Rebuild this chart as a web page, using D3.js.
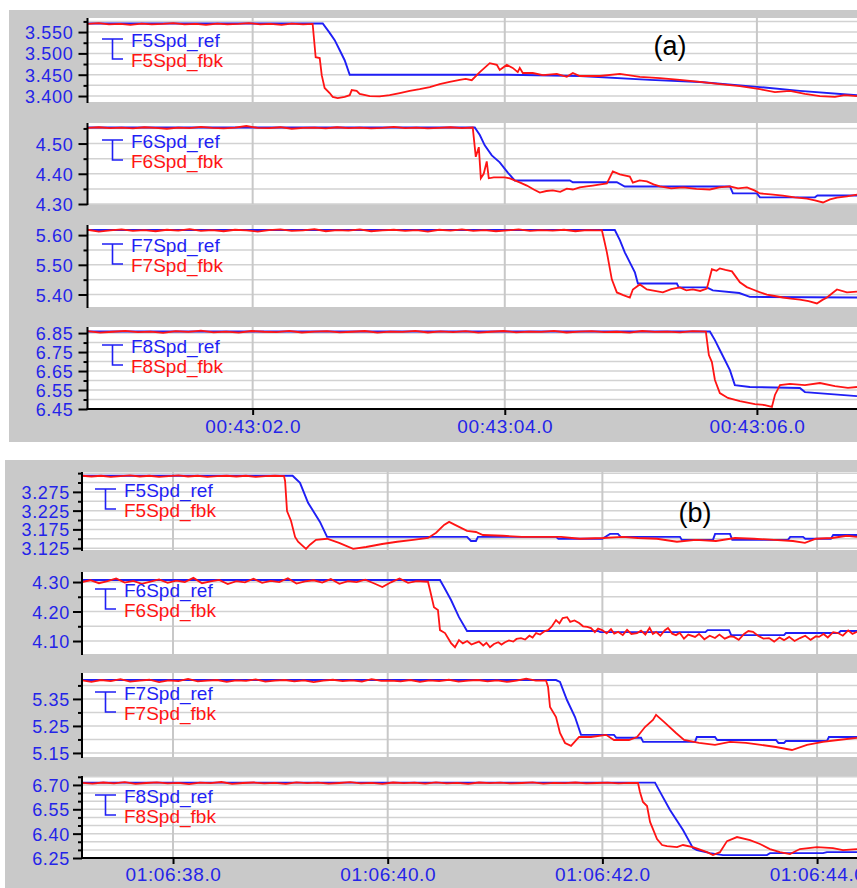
<!DOCTYPE html>
<html>
<head>
<meta charset="utf-8">
<style>
body { margin: 0; background: #fff; }
svg text { font-family: "Liberation Sans", Arial, sans-serif; }
</style>
</head>
<body>
<div id="chart"></div>
<script src="https://d3js.org/d3.v7.min.js"></script>
<script>

var width = 857, height = 888;

// (a): seconds after 00:43:00, (b): seconds after 01:06:00
var timeTicksA = [2, 4, 6];
var timeTicksB = [38, 40, 42, 44];

var f5aRef = [[0.69,3.570],[2.556,3.570],[2.611,3.548],[2.651,3.531],[2.690,3.508],[2.730,3.484],[2.770,3.450],[4.000,3.450],[4.595,3.447],[5.151,3.438],[5.548,3.433],[6.024,3.421],[6.341,3.412],[6.794,3.402]];
var f5aFbk = [[0.69,3.569],[0.78,3.571],[0.86,3.568],[0.95,3.569],[1.03,3.567],[1.12,3.570],[1.20,3.568],[1.29,3.569],[1.37,3.571],[1.46,3.568],[1.55,3.569],[1.63,3.567],[1.72,3.570],[1.80,3.568],[1.89,3.569],[1.97,3.571],[2.06,3.568],[2.14,3.569],[2.23,3.567],[2.31,3.570],[2.40,3.568],[2.476,3.569],
  [2.500,3.491],[2.532,3.489],[2.548,3.449],[2.571,3.419],[2.611,3.407],[2.635,3.398],[2.675,3.395],[2.730,3.398],[2.770,3.402],[2.786,3.414],[2.825,3.412],[2.849,3.405],[2.929,3.400],[3.008,3.399],[3.087,3.402],[3.167,3.407],[3.246,3.412],[3.325,3.416],[3.405,3.421],[3.484,3.428],[3.563,3.433],[3.643,3.438],[3.690,3.440],[3.738,3.437],[3.802,3.456],[3.881,3.477],[3.937,3.473],[3.960,3.461],[4.016,3.473],[4.063,3.466],[4.103,3.456],[4.119,3.466],[4.143,3.454],[4.222,3.454],[4.302,3.449],[4.413,3.452],[4.492,3.445],[4.540,3.454],[4.595,3.447],[4.754,3.447],[4.913,3.452],[5.071,3.445],[5.230,3.442],[5.389,3.438],[5.548,3.433],[5.706,3.428],[5.865,3.423],[6.024,3.416],[6.143,3.409],[6.262,3.412],[6.381,3.405],[6.500,3.400],[6.619,3.398],[6.698,3.402],[6.794,3.400]];

var f6aRef = [[0.69,4.553],[3.762,4.553],[3.802,4.528],[3.841,4.494],[3.897,4.461],[3.960,4.438],[4.024,4.404],[4.079,4.378],[4.516,4.378],[4.540,4.372],[4.889,4.372],[4.952,4.358],[5.786,4.358],[5.810,4.335],[6.000,4.335],[6.024,4.322],[6.460,4.322],[6.480,4.328],[6.794,4.328]];
var f6aFbk = [[0.69,4.552],[0.78,4.554],[0.87,4.551],[0.96,4.553],[1.05,4.550],[1.14,4.554],[1.23,4.552],[1.32,4.549],[1.41,4.553],[1.50,4.551],[1.59,4.555],[1.68,4.552],[1.77,4.550],[1.86,4.553],[1.95,4.558],[2.04,4.552],[2.13,4.551],[2.22,4.554],[2.31,4.549],[2.40,4.552],[2.49,4.553],[2.58,4.550],[2.67,4.554],[2.76,4.551],[2.85,4.553],[2.94,4.550],[3.03,4.552],[3.12,4.555],[3.21,4.551],[3.30,4.553],[3.39,4.550],[3.48,4.552],[3.57,4.554],[3.66,4.551],[3.746,4.553],
  [3.770,4.456],[3.794,4.488],[3.810,4.385],[3.833,4.400],[3.857,4.441],[3.873,4.385],[3.913,4.388],[4.000,4.388],[4.040,4.385],[4.079,4.378],[4.127,4.370],[4.175,4.361],[4.230,4.348],[4.278,4.338],[4.330,4.343],[4.381,4.345],[4.440,4.340],[4.492,4.351],[4.540,4.348],[4.595,4.355],[4.650,4.358],[4.698,4.361],[4.760,4.365],[4.810,4.368],[4.857,4.408],[4.913,4.398],[4.992,4.391],[5.016,4.371],[5.070,4.378],[5.127,4.375],[5.180,4.365],[5.230,4.358],[5.320,4.352],[5.413,4.355],[5.520,4.350],[5.627,4.348],[5.700,4.355],[5.786,4.358],[5.850,4.352],[5.921,4.355],[5.980,4.345],[6.024,4.335],[6.110,4.332],[6.206,4.328],[6.300,4.322],[6.397,4.318],[6.460,4.312],[6.524,4.305],[6.580,4.315],[6.635,4.321],[6.714,4.325],[6.794,4.331]];

var f7aRef = [[0.69,5.617],[4.873,5.617],[4.913,5.583],[4.952,5.542],[4.992,5.508],[5.032,5.475],[5.056,5.437],[5.365,5.437],[5.380,5.424],[5.603,5.424],[5.650,5.414],[5.860,5.405],[5.944,5.392],[6.794,5.390]];
var f7aFbk = [[0.69,5.618],[0.78,5.612],[0.87,5.616],[0.96,5.619],[1.05,5.614],[1.14,5.617],[1.23,5.613],[1.32,5.618],[1.41,5.615],[1.50,5.620],[1.59,5.614],[1.68,5.617],[1.77,5.613],[1.86,5.618],[1.95,5.616],[2.04,5.612],[2.13,5.617],[2.22,5.619],[2.31,5.614],[2.40,5.616],[2.49,5.620],[2.58,5.613],[2.67,5.617],[2.76,5.615],[2.85,5.619],[2.94,5.613],[3.03,5.616],[3.12,5.618],[3.21,5.614],[3.30,5.617],[3.39,5.612],[3.48,5.618],[3.57,5.615],[3.66,5.619],[3.75,5.614],[3.84,5.617],[3.93,5.613],[4.02,5.616],[4.11,5.619],[4.20,5.614],[4.29,5.617],[4.38,5.615],[4.47,5.618],[4.56,5.613],[4.65,5.617],[4.754,5.616],
  [4.770,5.617],[4.790,5.580],[4.810,5.542],[4.849,5.451],[4.889,5.407],[4.940,5.398],[4.992,5.390],[5.016,5.417],[5.071,5.434],[5.100,5.425],[5.127,5.417],[5.190,5.412],[5.254,5.407],[5.320,5.418],[5.389,5.424],[5.440,5.414],[5.492,5.417],[5.550,5.412],[5.603,5.420],[5.643,5.485],[5.680,5.480],[5.706,5.488],[5.750,5.483],[5.802,5.478],[5.865,5.441],[5.920,5.425],[5.968,5.417],[6.020,5.408],[6.079,5.400],[6.140,5.395],[6.206,5.390],[6.270,5.386],[6.341,5.383],[6.410,5.378],[6.476,5.370],[6.520,5.382],[6.556,5.390],[6.600,5.405],[6.635,5.417],[6.714,5.407],[6.794,5.410]];

var f8aRef = [[0.69,6.858],[5.627,6.858],[5.667,6.813],[5.706,6.761],[5.746,6.708],[5.786,6.655],[5.825,6.576],[5.944,6.566],[6.341,6.561],[6.381,6.539],[6.794,6.518]];
var f8aFbk = [[0.69,6.860],[0.79,6.852],[0.89,6.857],[0.99,6.862],[1.09,6.855],[1.19,6.858],[1.29,6.851],[1.39,6.860],[1.49,6.856],[1.59,6.863],[1.69,6.854],[1.79,6.858],[1.89,6.852],[1.99,6.861],[2.09,6.857],[2.19,6.855],[2.29,6.862],[2.39,6.853],[2.49,6.858],[2.59,6.860],[2.69,6.854],[2.79,6.857],[2.89,6.861],[2.99,6.852],[3.09,6.858],[3.19,6.856],[3.29,6.862],[3.39,6.853],[3.49,6.859],[3.59,6.855],[3.69,6.860],[3.79,6.852],[3.89,6.857],[3.99,6.861],[4.09,6.854],[4.19,6.858],[4.29,6.856],[4.39,6.862],[4.49,6.853],[4.59,6.858],[4.69,6.860],[4.79,6.855],[4.89,6.857],[4.99,6.852],[5.09,6.861],[5.19,6.856],[5.29,6.858],[5.39,6.854],[5.49,6.860],[5.595,6.858],
  [5.619,6.734],[5.643,6.697],[5.667,6.603],[5.706,6.534],[5.770,6.508],[5.865,6.492],[5.984,6.476],[6.063,6.471],[6.119,6.461],[6.143,6.524],[6.183,6.576],[6.262,6.582],[6.381,6.576],[6.500,6.587],[6.619,6.571],[6.722,6.561],[6.794,6.566]];

var f5bRef = [[37.152,3.318],[39.114,3.318],[39.183,3.299],[39.258,3.246],[39.369,3.195],[39.435,3.155],[40.739,3.155],[40.776,3.144],[40.822,3.144],[40.841,3.155],[41.568,3.155],[41.590,3.150],[42.000,3.150],[42.071,3.163],[42.145,3.163],[42.170,3.155],[42.723,3.155],[42.740,3.147],[43.030,3.147],[43.050,3.163],[43.189,3.163],[43.210,3.147],[43.729,3.147],[43.750,3.155],[43.869,3.155],[43.890,3.150],[44.129,3.150],[44.150,3.160],[44.372,3.160]];
var f5bFbk = [[37.152,3.318],[37.24,3.316],[37.33,3.318],[37.42,3.315],[37.51,3.317],[37.60,3.319],[37.69,3.316],[37.78,3.318],[37.87,3.315],[37.96,3.317],[38.05,3.319],[38.14,3.316],[38.23,3.318],[38.32,3.315],[38.41,3.317],[38.50,3.318],[38.59,3.316],[38.68,3.318],[38.77,3.315],[38.86,3.317],[38.95,3.318],[39.034,3.317],
  [39.044,3.304],[39.062,3.224],[39.099,3.198],[39.137,3.155],[39.165,3.142],[39.239,3.123],[39.276,3.134],[39.332,3.147],[39.435,3.150],[39.547,3.139],[39.678,3.123],[39.799,3.128],[39.948,3.136],[40.088,3.142],[40.237,3.147],[40.376,3.152],[40.451,3.166],[40.525,3.187],[40.572,3.195],[40.627,3.187],[40.739,3.171],[40.822,3.168],[40.887,3.160],[41.073,3.158],[41.250,3.155],[41.427,3.155],[41.614,3.155],[41.791,3.150],[42.005,3.152],[42.191,3.155],[42.331,3.152],[42.508,3.150],[42.694,3.142],[42.871,3.147],[43.058,3.144],[43.235,3.152],[43.412,3.150],[43.598,3.147],[43.775,3.144],[43.887,3.139],[43.990,3.150],[44.139,3.152],[44.279,3.158],[44.372,3.155]];

var f6bRef = [[37.152,4.307],[40.487,4.307],[40.524,4.283],[40.590,4.239],[40.664,4.181],[40.739,4.134],[41.959,4.134],[41.980,4.130],[42.960,4.130],[42.980,4.137],[43.180,4.137],[43.200,4.120],[43.692,4.120],[43.710,4.127],[44.200,4.127],[44.220,4.134],[44.372,4.134]];
var f6bFbk = [[37.152,4.300],[37.23,4.306],[37.31,4.296],[37.39,4.303],[37.47,4.312],[37.55,4.298],[37.63,4.304],[37.71,4.294],[37.79,4.301],[37.87,4.309],[37.95,4.297],[38.03,4.305],[38.11,4.300],[38.19,4.314],[38.27,4.296],[38.35,4.302],[38.43,4.307],[38.51,4.293],[38.59,4.303],[38.67,4.299],[38.75,4.311],[38.83,4.297],[38.91,4.304],[38.99,4.300],[39.07,4.313],[39.15,4.295],[39.23,4.302],[39.31,4.306],[39.39,4.298],[39.47,4.310],[39.55,4.294],[39.63,4.303],[39.71,4.300],[39.79,4.308],[39.87,4.296],[39.95,4.283],[40.03,4.299],[40.11,4.312],[40.19,4.297],[40.27,4.303],[40.375,4.301],
  [40.394,4.273],[40.431,4.215],[40.468,4.205],[40.487,4.137],[40.534,4.127],[40.590,4.093],[40.627,4.079],[40.664,4.103],[40.700,4.092],[40.740,4.100],[40.780,4.088],[40.813,4.093],[40.850,4.098],[40.890,4.085],[40.920,4.094],[40.953,4.079],[40.990,4.090],[41.030,4.096],[41.060,4.088],[41.093,4.096],[41.130,4.102],[41.170,4.098],[41.200,4.107],[41.242,4.110],[41.280,4.105],[41.320,4.118],[41.350,4.112],[41.382,4.127],[41.420,4.122],[41.460,4.133],[41.494,4.137],[41.530,4.150],[41.568,4.171],[41.600,4.160],[41.630,4.178],[41.671,4.181],[41.700,4.165],[41.740,4.170],[41.783,4.161],[41.820,4.150],[41.860,4.148],[41.894,4.144],[41.930,4.130],[41.960,4.142],[41.997,4.137],[42.040,4.126],[42.080,4.140],[42.110,4.125],[42.146,4.131],[42.190,4.120],[42.230,4.138],[42.270,4.124],[42.323,4.127],[42.360,4.135],[42.400,4.122],[42.440,4.145],[42.470,4.124],[42.500,4.131],[42.540,4.118],[42.580,4.136],[42.611,4.144],[42.650,4.125],[42.686,4.120],[42.720,4.128],[42.760,4.108],[42.800,4.122],[42.863,4.114],[42.900,4.124],[42.950,4.106],[43.000,4.118],[43.049,4.110],[43.090,4.122],[43.140,4.108],[43.190,4.116],[43.226,4.114],[43.270,4.104],[43.320,4.124],[43.360,4.134],[43.403,4.131],[43.450,4.118],[43.500,4.108],[43.552,4.110],[43.600,4.098],[43.650,4.112],[43.692,4.103],[43.740,4.114],[43.790,4.100],[43.841,4.110],[43.890,4.118],[43.940,4.104],[43.990,4.116],[44.018,4.114],[44.060,4.124],[44.100,4.112],[44.150,4.130],[44.195,4.127],[44.240,4.118],[44.290,4.136],[44.330,4.124],[44.372,4.131]];

var f7bRef = [[37.152,5.420],[41.568,5.420],[41.605,5.413],[41.670,5.346],[41.745,5.283],[41.801,5.217],[42.108,5.217],[42.130,5.206],[42.360,5.206],[42.380,5.191],[42.863,5.191],[42.880,5.209],[43.049,5.209],[43.070,5.198],[43.617,5.198],[43.640,5.187],[43.692,5.187],[43.710,5.194],[44.092,5.194],[44.110,5.209],[44.372,5.209]];
var f7bFbk = [[37.152,5.419],[37.24,5.413],[37.33,5.420],[37.42,5.416],[37.51,5.423],[37.60,5.414],[37.69,5.418],[37.78,5.421],[37.87,5.412],[37.96,5.419],[38.05,5.416],[38.14,5.424],[38.23,5.415],[38.32,5.418],[38.41,5.420],[38.50,5.413],[38.59,5.419],[38.68,5.417],[38.77,5.422],[38.86,5.414],[38.95,5.418],[39.04,5.420],[39.13,5.415],[39.22,5.419],[39.31,5.412],[39.40,5.418],[39.49,5.421],[39.58,5.416],[39.67,5.419],[39.76,5.414],[39.85,5.423],[39.94,5.417],[40.03,5.418],[40.12,5.415],[40.21,5.420],[40.30,5.413],[40.39,5.419],[40.48,5.416],[40.57,5.421],[40.66,5.414],[40.75,5.418],[40.84,5.420],[40.93,5.415],[41.02,5.419],[41.11,5.413],[41.20,5.418],[41.29,5.425],[41.38,5.418],[41.475,5.418],
  [41.494,5.394],[41.512,5.320],[41.568,5.283],[41.605,5.224],[41.652,5.187],[41.708,5.176],[41.783,5.209],[41.894,5.209],[42.034,5.217],[42.108,5.198],[42.248,5.198],[42.323,5.209],[42.397,5.246],[42.471,5.272],[42.500,5.291],[42.574,5.265],[42.686,5.224],[42.761,5.198],[42.900,5.187],[43.049,5.180],[43.189,5.191],[43.338,5.187],[43.477,5.180],[43.617,5.172],[43.766,5.161],[43.906,5.180],[44.055,5.191],[44.195,5.198],[44.372,5.206]];

var f8bRef = [[37.152,6.714],[42.490,6.714],[42.537,6.657],[42.630,6.546],[42.751,6.422],[42.844,6.311],[42.881,6.299],[43.002,6.280],[43.123,6.268],[43.533,6.268],[43.561,6.280],[44.055,6.280],[44.092,6.286],[44.372,6.286]];
var f8bFbk = [[37.152,6.713],[37.25,6.708],[37.35,6.715],[37.45,6.710],[37.55,6.717],[37.65,6.706],[37.75,6.712],[37.85,6.716],[37.95,6.709],[38.05,6.713],[38.15,6.705],[38.25,6.714],[38.35,6.711],[38.45,6.718],[38.55,6.707],[38.65,6.712],[38.75,6.715],[38.85,6.709],[38.95,6.713],[39.05,6.706],[39.15,6.716],[39.25,6.711],[39.35,6.714],[39.45,6.708],[39.55,6.712],[39.65,6.717],[39.75,6.709],[39.85,6.713],[39.95,6.706],[40.05,6.715],[40.15,6.711],[40.25,6.714],[40.35,6.708],[40.45,6.716],[40.55,6.710],[40.65,6.713],[40.75,6.707],[40.85,6.715],[40.95,6.711],[41.05,6.714],[41.15,6.709],[41.25,6.712],[41.35,6.716],[41.45,6.708],[41.55,6.713],[41.65,6.711],[41.75,6.715],[41.85,6.709],[41.95,6.712],[42.05,6.714],[42.15,6.710],[42.25,6.713],[42.332,6.712],
  [42.350,6.657],[42.378,6.595],[42.416,6.570],[42.444,6.472],[42.509,6.367],[42.556,6.330],[42.602,6.323],[42.695,6.317],[42.751,6.330],[42.844,6.317],[42.975,6.286],[43.030,6.268],[43.095,6.286],[43.161,6.354],[43.254,6.379],[43.375,6.360],[43.468,6.336],[43.561,6.305],[43.654,6.286],[43.747,6.274],[43.840,6.305],[43.999,6.317],[44.148,6.311],[44.241,6.299],[44.372,6.305]];

// layout
var panels = [
  { label: "(a)", labelX: 670, labelY: 55, bg: [9, 10, 848, 432], left: 87.5, t0: 0.69, t1: 6.794,
    ticks: timeTicksA, prefix: "00:43:", xLabelY: 433, yLabelRight: 73.5, legendX: 131,
    rows: [
      { id: "F5", top: 18, bottom: 102, v0: 3.386, v1: 3.583, major: [3.400, 3.450, 3.500, 3.550], fmt: ".3f", grid: 0.025, legendY: 47, ref: f5aRef, fbk: f5aFbk },
      { id: "F6", top: 123, bottom: 204, v0: 4.300, v1: 4.568, major: [4.30, 4.40, 4.50], fmt: ".2f", grid: 0.05, legendY: 148, ref: f6aRef, fbk: f6aFbk },
      { id: "F7", top: 225, bottom: 307, v0: 5.358, v1: 5.634, major: [5.40, 5.50, 5.60], fmt: ".2f", grid: 0.05, legendY: 252, ref: f7aRef, fbk: f7aFbk },
      { id: "F8", top: 327, bottom: 409, v0: 6.450, v1: 6.882, major: [6.45, 6.55, 6.65, 6.75, 6.85], fmt: ".2f", grid: 0.05, legendY: 353, ref: f8aRef, fbk: f8aFbk }
    ] },
  { label: "(b)", labelX: 695, labelY: 522, bg: [5, 460, 852, 428], left: 82, t0: 37.152, t1: 44.372,
    ticks: timeTicksB, prefix: "01:06:", xLabelY: 881, yLabelRight: 70, legendX: 124,
    rows: [
      { id: "F5", top: 472, bottom: 550, v0: 3.120, v1: 3.328, major: [3.125, 3.175, 3.225, 3.275], fmt: ".3f", grid: 0.025, legendY: 497, ref: f5bRef, fbk: f5bFbk },
      { id: "F6", top: 572, bottom: 654, v0: 4.056, v1: 4.334, major: [4.10, 4.20, 4.30], fmt: ".2f", grid: 0.05, legendY: 597, ref: f6bRef, fbk: f6bFbk },
      { id: "F7", top: 673, bottom: 757, v0: 5.135, v1: 5.446, major: [5.15, 5.25, 5.35], fmt: ".2f", grid: 0.05, legendY: 700, ref: f7bRef, fbk: f7bFbk },
      { id: "F8", top: 776, bottom: 858, v0: 6.250, v1: 6.755, major: [6.25, 6.40, 6.55, 6.70], fmt: ".2f", grid: 0.05, legendY: 803, ref: f8bRef, fbk: f8bFbk }
    ] }
];

var blue = "#1f1ff5", red = "#ff1414", textBlue = "#2424e8";

var svg = d3.select("#chart").append("svg")
    .attr("width", width)
    .attr("height", height);

svg.append("rect").attr("width", width).attr("height", height).attr("fill", "#fff");

panels.forEach(function(p, pi) {
  var g = svg.append("g");

  g.append("rect")
    .attr("x", p.bg[0]).attr("y", p.bg[1])
    .attr("width", p.bg[2]).attr("height", p.bg[3])
    .attr("fill", "#c9c9c9");

  var x = d3.scaleLinear().domain([p.t0, p.t1]).range([p.left, width]);

  p.rows.forEach(function(r, ri) {
    var y = d3.scaleLinear().domain([r.v0, r.v1]).range([r.bottom, r.top]);
    var clipId = "clip" + pi + ri;

    g.append("clipPath").attr("id", clipId)
      .append("rect")
      .attr("x", p.left).attr("y", r.top)
      .attr("width", width - p.left).attr("height", r.bottom - r.top);

    g.append("rect")
      .attr("x", p.left).attr("y", r.top)
      .attr("width", width - p.left).attr("height", r.bottom - r.top)
      .attr("fill", "#fff");

    // horizontal grid
    var n0 = Math.ceil(r.v0 / r.grid - 1e-6), n1 = Math.floor(r.v1 / r.grid + 1e-6);
    var gridVals = d3.range(n0, n1 + 1).map(function(k) { return k * r.grid; });

    g.append("g").selectAll("line")
      .data(gridVals)
      .enter().append("line")
      .attr("x1", p.left).attr("x2", width)
      .attr("y1", function(d) { return y(d); })
      .attr("y2", function(d) { return y(d); })
      .attr("stroke", "#d2d2d2")
      .attr("stroke-width", 1.5);

    // vertical grid
    g.append("g").selectAll("line")
      .data(p.ticks)
      .enter().append("line")
      .attr("x1", function(d) { return x(d); })
      .attr("x2", function(d) { return x(d); })
      .attr("y1", r.top).attr("y2", r.bottom)
      .attr("stroke", "#c8c8c8")
      .attr("stroke-width", 2);

    var line = d3.line()
      .x(function(d) { return x(d[0]); })
      .y(function(d) { return y(d[1]); });

    var lines = g.append("g").attr("clip-path", "url(#" + clipId + ")");
    lines.append("path")
      .datum(r.ref)
      .attr("d", line)
      .attr("fill", "none")
      .attr("stroke", blue)
      .attr("stroke-width", 1.9);
    lines.append("path")
      .datum(r.fbk)
      .attr("d", line)
      .attr("fill", "none")
      .attr("stroke", red)
      .attr("stroke-width", 1.8);

    // legend
    var lx = p.legendX, ly = r.legendY;
    g.append("path")
      .attr("d", "M" + (lx - 29) + "," + (ly - 8) + "H" + (lx - 8) +
                 "M" + (lx - 18.5) + "," + (ly - 8) + "V" + (ly + 12) + "H" + (lx - 8))
      .attr("fill", "none")
      .attr("stroke", blue)
      .attr("stroke-width", 1.6);
    g.append("text")
      .attr("x", lx).attr("y", ly)
      .attr("fill", blue)
      .style("font-size", "19px")
      .text(r.id + "Spd_ref");
    g.append("text")
      .attr("x", lx).attr("y", ly + 19.5)
      .attr("fill", red)
      .style("font-size", "19px")
      .text(r.id + "Spd_fbk");

    // y axis
    var minor = gridVals.filter(function(v) {
      return !r.major.some(function(m) { return Math.abs(m - v) < 1e-6; });
    });

    var axMinor = g.append("g")
      .attr("transform", "translate(" + p.left + ",0)")
      .call(d3.axisLeft(y).tickValues(minor).tickSize(4).tickFormat(""));
    axMinor.select(".domain").remove();
    axMinor.selectAll("line").attr("stroke", "#000").attr("stroke-width", 2);

    var axMajor = g.append("g")
      .attr("transform", "translate(" + p.left + ",0)")
      .call(d3.axisLeft(y).tickValues(r.major).tickSize(9)
        .tickPadding(p.left - 9 - p.yLabelRight)
        .tickFormat(d3.format(r.fmt)));
    axMajor.select(".domain").remove();
    axMajor.selectAll("line").attr("stroke", "#000").attr("stroke-width", 2);
    axMajor.selectAll("text")
      .attr("fill", textBlue)
      .attr("dy", "0.36em")
      .style("font-size", "18px")
      .style("letter-spacing", "0.7px")
      .style("font-family", "'Liberation Sans', Arial, sans-serif");

    g.append("line")
      .attr("x1", p.left).attr("x2", p.left)
      .attr("y1", r.top).attr("y2", r.bottom + 1)
      .attr("stroke", "#000").attr("stroke-width", 2);

    // x axis on the last row
    if (ri === p.rows.length - 1) {
      g.append("line")
        .attr("x1", p.left - 1).attr("x2", width)
        .attr("y1", r.bottom).attr("y2", r.bottom)
        .attr("stroke", "#000").attr("stroke-width", 2);

      var axX = g.append("g")
        .attr("transform", "translate(0," + r.bottom + ")")
        .call(d3.axisBottom(x).tickValues(p.ticks).tickSize(6)
          .tickFormat(function(d) { return p.prefix + d3.format("04.1f")(d); }));
      axX.select(".domain").remove();
      axX.selectAll("line").attr("stroke", "#000").attr("stroke-width", 2);
      axX.selectAll("text")
        .attr("y", p.xLabelY - r.bottom)
        .attr("dy", 0)
        .attr("fill", textBlue)
        .style("font-size", "19px")
        .style("letter-spacing", "0.6px")
        .style("font-family", "'Liberation Sans', Arial, sans-serif");
    }
  });

  g.append("text")
    .attr("x", p.labelX).attr("y", p.labelY)
    .attr("text-anchor", "middle")
    .attr("fill", "#000")
    .style("font-size", "27px")
    .text(p.label);
});

</script>
</body>
</html>
